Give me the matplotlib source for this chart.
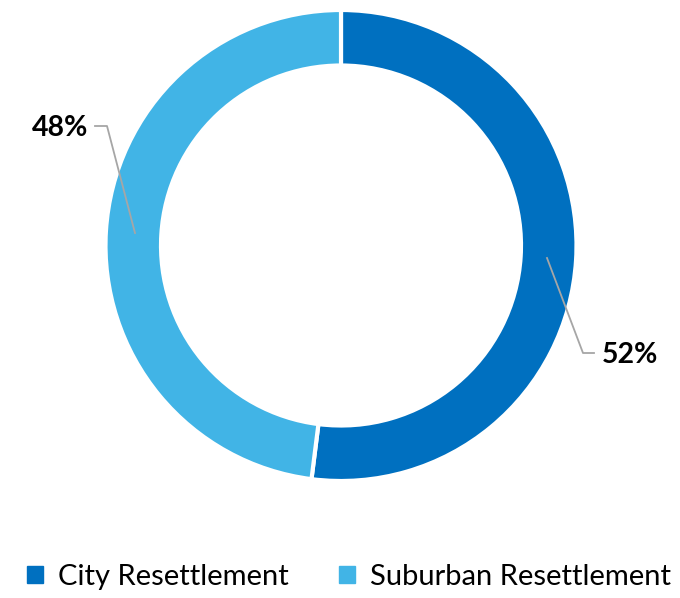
import matplotlib
matplotlib.use("Agg")
import matplotlib.pyplot as plt
from matplotlib.patches import Rectangle

categories = ["City Resettlement", "Suburban Resettlement"]
values = [52, 48]
labels = ["52%", "48%"]
colors = ["#0070C0", "#41B4E6"]

plt.rcParams['font.family'] = ['Lato', 'DejaVu Sans']

fig = plt.figure(figsize=(6.8, 5.98), dpi=100)
ax = fig.add_axes([0, 0, 1, 1])
ax.axis('off')

cx, cy, R = 341, 598 - 245.5, 235.5
wedges, _ = ax.pie(values, colors=colors, startangle=90, counterclock=False,
                   center=(cx, cy), radius=R,
                   wedgeprops=dict(width=R - 180, edgecolor='white', linewidth=3))
ax.set_xlim(0, 680)
ax.set_ylim(0, 598)
ax.set_aspect('equal')

lc = '#A6A6A6'
# 52% leader
ax.plot([547, 583, 594], [598 - 258, 598 - 353, 598 - 353], color=lc, lw=1.3)
ax.text(602, 598 - 355, labels[0], ha='left', va='center', fontsize=20.5, fontweight='bold')
# 48% leader
ax.plot([135, 107, 95], [598 - 233, 598 - 126, 598 - 126], color=lc, lw=1.3)
ax.text(88, 598 - 128, labels[1], ha='right', va='center', fontsize=20.5, fontweight='bold')

handles = [Rectangle((0, 0), 1, 1, color=c) for c in colors]
leg = fig.legend(handles, categories, loc='center', bbox_to_anchor=(349 / 680, 21 / 598),
                 ncol=2, frameon=False, fontsize=21, handlelength=0.55, handleheight=0.55,
                 handletextpad=0.5, columnspacing=1.72, borderpad=0)

fig.savefig("out.png", dpi=100)
